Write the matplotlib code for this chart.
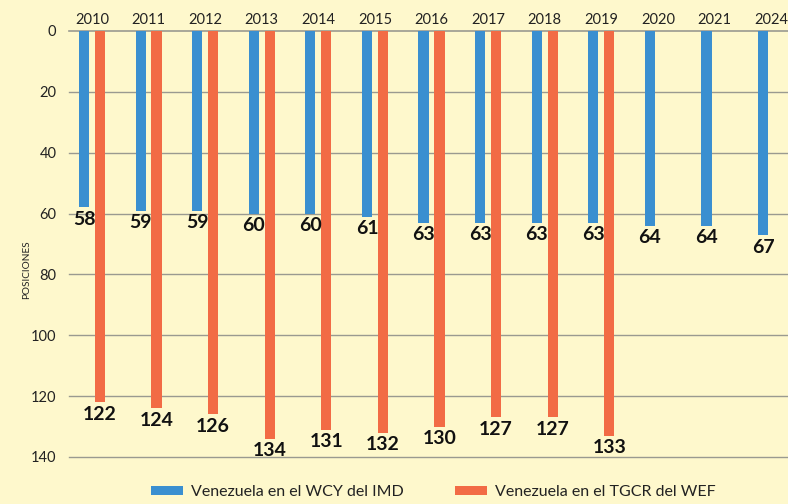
import matplotlib
matplotlib.use("Agg")
import matplotlib.pyplot as plt
import numpy as np

years = ["2010", "2011", "2012", "2013", "2014", "2015", "2016", "2017", "2018", "2019", "2020", "2021", "2024"]
wcy_imd = [58, 59, 59, 60, 60, 61, 63, 63, 63, 63, 64, 64, 67]
tgcr_wef = [122, 124, 126, 134, 131, 132, 130, 127, 127, 133]
series_names = ["Venezuela en el WCY del IMD", "Venezuela en el TGCR del WEF"]
y_ticks = [0, 20, 40, 60, 80, 100, 120, 140]

plt.rcParams['font.family'] = ['Lato', 'DejaVu Sans']

BG = '#FEF8CC'
BLUE = '#3A8FD0'
ORANGE = '#F26B45'

fig = plt.figure(figsize=(7.88, 5.04), dpi=100, facecolor=BG)
ax = fig.add_axes([69/788, 1-457/504, 1-69/788, (457-31)/504])
ax.set_facecolor(BG)

x = np.arange(len(years))
w = 0.18
off = 0.14
b1 = ax.bar(x - off, wcy_imd, width=w, color=BLUE, zorder=3, label=series_names[0])
xo = np.arange(len(tgcr_wef))
b2 = ax.bar(xo + off, tgcr_wef, width=w, color=ORANGE, zorder=3, label=series_names[1])

for xi, v in zip(x - off, wcy_imd):
    ax.text(xi, v + 1.2, str(v), ha='center', va='top', fontsize=14, fontweight='bold', color='#111111', zorder=4)
for xi, v in zip(xo + off, tgcr_wef):
    ax.text(xi, v + 1.2, str(v), ha='center', va='top', fontsize=14, fontweight='bold', color='#111111', zorder=4)

ax.set_ylim(140, 0)
ax.set_xlim(-0.406, 12.30)
ax.set_yticks(y_ticks)
ax.set_yticklabels([str(t) for t in y_ticks], fontsize=10.5, color='#222222')
ax.tick_params(axis='y', length=0, pad=9)
ax.xaxis.tick_top()
ax.set_xticks(x)
ax.set_xticklabels(years, fontsize=10.5, color='#222222')
ax.tick_params(axis='x', length=0, pad=3)

for t in y_ticks:
    ax.axhline(t, color='#9a9a90', lw=1.2 if t == 0 else 1.0, zorder=1, clip_on=False)
for s in ax.spines.values():
    s.set_visible(False)

fig.text(27/788, 1-270/504, "POSICIONES", rotation=90, ha='center', va='center', fontsize=7.2, color='#222222')

leg = fig.legend(handles=[b1, b2], labels=series_names, loc='center', bbox_to_anchor=(433/788, 1-492/504),
                 ncol=2, frameon=False, fontsize=11.5, handlelength=2.0, handleheight=0.55,
                 handletextpad=0.5, columnspacing=3.2)
for t in leg.get_texts():
    t.set_color('#222222')

fig.savefig('out.png', dpi=100, facecolor=BG)
